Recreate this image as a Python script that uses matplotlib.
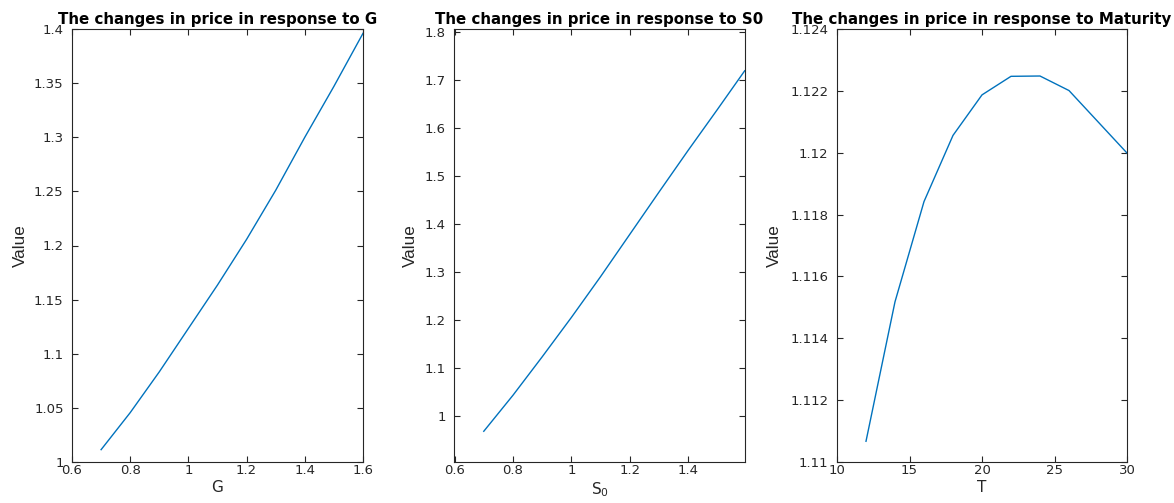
import matplotlib
matplotlib.use("Agg")
import matplotlib.pyplot as plt
from matplotlib.ticker import FuncFormatter

plt.rcParams['font.family'] = ['DejaVu Sans']
plt.rcParams['mathtext.default'] = 'regular'

# price vs G
g_vals = [0.7, 0.8, 0.9, 1.0, 1.1, 1.2, 1.3, 1.4, 1.5, 1.6]
g_price = [1.0114, 1.0456, 1.0833, 1.1234, 1.1635, 1.2057, 1.2510, 1.3000, 1.3470, 1.3960]

# price vs S0
s0_vals = [0.7, 0.8, 0.9, 1.0, 1.1, 1.2, 1.3, 1.4, 1.5, 1.594]
s0_price = [0.968, 1.043, 1.123, 1.205, 1.290, 1.378, 1.466, 1.553, 1.638, 1.719]

# price vs maturity
t_vals = [12, 14, 16, 18, 20, 22, 24, 26, 28, 30]
t_price = [1.11067, 1.11518, 1.11842, 1.12056, 1.12187, 1.12247, 1.12248, 1.12201, 1.12100, 1.11999]

blue = '#0072BD'
dark = '#262626'
fmt = FuncFormatter(lambda v, p: '%g' % round(v, 6))

fig = plt.figure(figsize=(11.74, 5.03), dpi=100)
W, H = 1174.0, 503.0
boxes = [(72, 363), (454, 745), (837, 1127)]
ylab_off = [44, 36, 55]   # px from axes left to right side of "Value"
top, bottom = 29, 462

panels = [
    (g_vals, g_price, 'G', 'The changes in price in response to G',
     (0.6, 1.6), (1.0, 1.4), [0.6, 0.8, 1.0, 1.2, 1.4, 1.6],
     [1.0, 1.05, 1.1, 1.15, 1.2, 1.25, 1.3, 1.35, 1.4]),
    (s0_vals, s0_price, 'S$_0$', 'The changes in price in response to S0',
     (0.598, 1.595), (0.904, 1.806), [0.6, 0.8, 1.0, 1.2, 1.4],
     [1.0, 1.1, 1.2, 1.3, 1.4, 1.5, 1.6, 1.7, 1.8]),
    (t_vals, t_price, 'T', 'The changes in price in response to Maturity',
     (10, 30), (1.11, 1.124), [10, 15, 20, 25, 30],
     [1.11, 1.112, 1.114, 1.116, 1.118, 1.12, 1.122, 1.124]),
]

for (l, r), off, (x, y, xl, title, xlim, ylim, xt, yt) in zip(boxes, ylab_off, panels):
    ax = fig.add_axes([l / W, 1 - bottom / H, (r - l) / W, (bottom - top) / H])
    ax.plot(x, y, color=blue, lw=1.0)
    ax.set_xlim(*xlim)
    ax.set_ylim(*ylim)
    ax.set_xticks(xt)
    ax.set_yticks(yt)
    ax.xaxis.set_major_formatter(fmt)
    ax.yaxis.set_major_formatter(fmt)
    ax.tick_params(direction='in', top=True, right=True, length=4.5, width=0.8,
                   labelsize=9.5, colors=dark)
    ax.tick_params(axis='x', pad=1.5)
    ax.tick_params(axis='y', pad=6)
    for s in ax.spines.values():
        s.set_color(dark)
        s.set_linewidth(0.8)
    ax.set_xlabel(xl, fontsize=11, color=dark, labelpad=2)
    ax.set_ylabel('Value', fontsize=12.3, color=dark,
                  family=['Liberation Sans Narrow', 'Liberation Sans'])
    ax.yaxis.set_label_coords(-off / (r - l), 0.5)
    ax.set_title(title, fontsize=10.8, fontweight='bold', pad=3.5)

fig.savefig('out.png', dpi=100)
